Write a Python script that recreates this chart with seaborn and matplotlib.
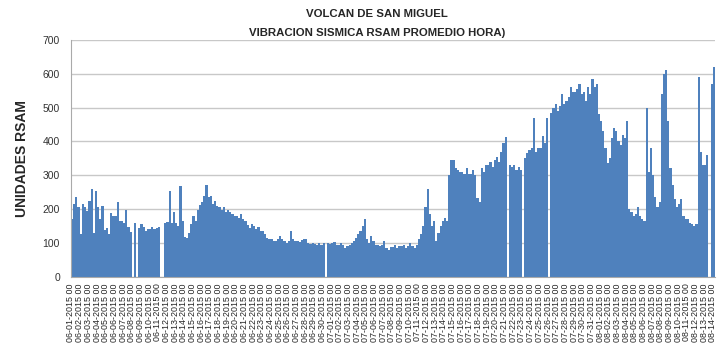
import numpy as np
import pandas as pd
import matplotlib
matplotlib.use("Agg")
import matplotlib.pyplot as plt
import seaborn as sns

# RSAM values, 4 values per day (6-hour steps), 06-01-2015 .. 08-14-2015 00h
june = [
    172, 215, 236, 205,  125, 215, 205, 195,  225, 258, 130, 252,  205, 172, 210, 138,
    145, 125, 187, 180,  180, 220, 165, 165,  160, 197, 148, 132,  0, 158, 0, 145,
    155, 148, 135, 140,  142, 148, 140, 145,  148, 0, 0, 158,  162, 252, 160, 192,
    160, 150, 268, 165,  118, 115, 128, 155,  178, 165, 198, 212,  222, 238, 272, 235,
    238, 215, 225, 210,  205, 198, 205, 192,  198, 190, 185, 180,  180, 175, 185, 170,
    165, 152, 145, 155,  150, 140, 148, 135,  135, 125, 115, 110,  110, 105, 105, 110,
    120, 112, 105, 100,  105, 135, 110, 105,  105, 104, 108, 110,  112, 100, 98, 100,
    97, 95, 100, 95,  100, 0, 100, 98,
]
july = [
    100, 104, 95, 95,  100, 94, 85, 90,  95, 100, 105, 115,  125, 135, 150, 172,
    112, 100, 120, 105,  95, 95, 90, 95,  105, 85, 80, 88,  88, 95, 85, 90,
    92, 95, 85, 90,  100, 90, 85, 95,  110, 125, 150, 205,  258, 185, 150, 165,
    105, 130, 150, 165,  175, 165, 300, 345,  345, 320, 315, 310,  310, 305, 320, 305,
    305, 315, 300, 232,  220, 320, 310, 330,  330, 340, 325, 345,  355, 340, 370, 395,
    412, 0, 330, 325,  330, 315, 325, 315,  0, 350, 365, 375,  380, 470, 370, 380,
    380, 415, 395, 470,  0, 485, 500, 510,  490, 505, 540, 510,  520, 530, 560, 545,
    545, 555, 570, 540,  545, 520, 560, 540,  585, 560, 570, 480,
]
august = [
    460, 430, 380, 335,  350, 410, 440, 430,  400, 390, 420, 410,  460, 200, 190, 180,
    185, 205, 180, 170,  165, 500, 310, 380,  300, 235, 205, 220,  540, 600, 610, 460,
    320, 270, 230, 205,  215, 230, 180, 170,  170, 160, 155, 150,  155, 590, 370, 330,
    330, 360, 0, 570,  620,
]
rsam = june + july + august

dates = pd.date_range("2015-06-01", "2015-08-14", freq="D")
tick_labels = [d.strftime("%m-%d-%Y 00") for d in dates]

df = pd.DataFrame({"dia": np.arange(len(rsam)) / 4 + 0.125, "rsam": rsam})

sns.set_style("white")
plt.rcParams["font.family"] = ["Liberation Sans Narrow", "Liberation Sans", "DejaVu Sans"]

fig = plt.figure(figsize=(7.2, 3.57), dpi=100)
ax = fig.add_axes([0.0986, 0.225, 0.8944, 0.663])

sns.barplot(data=df, x="dia", y="rsam", native_scale=True, width=1, color="#4F81BD",
            saturation=1, errorbar=None, linewidth=0, ax=ax)

ax.set_xlim(0, len(rsam) / 4)
ax.set_ylim(0, 700)
ax.set_yticks(range(0, 701, 100))
ax.yaxis.grid(True, color="#C8C8C8", linewidth=1)
ax.set_axisbelow(True)
ax.tick_params(axis="y", labelsize=7.5, length=0, pad=8, colors="#333333")

ax.set_xticks(np.arange(len(dates)))
ax.set_xticklabels(tick_labels, rotation=90, fontsize=6.4)
ax.tick_params(axis="x", length=3, width=0.6, color="#AAAAAA", pad=2)

for s in ["top", "right"]:
    ax.spines[s].set_visible(False)
ax.spines["left"].set_color("#AAAAAA")
ax.spines["bottom"].set_color("#AAAAAA")

ax.set_xlabel("")
ax.set_ylabel("UNIDADES RSAM", fontsize=10, fontweight="bold", labelpad=10)

fig.text(0.524, 0.962, "VOLCAN DE SAN MIGUEL", ha="center", va="center",
         fontsize=8.2, fontweight="bold")
fig.text(0.524, 0.907, "VIBRACION SISMICA RSAM PROMEDIO HORA)", ha="center", va="center",
         fontsize=8.2, fontweight="bold")

fig.savefig("out.png", dpi=100)
